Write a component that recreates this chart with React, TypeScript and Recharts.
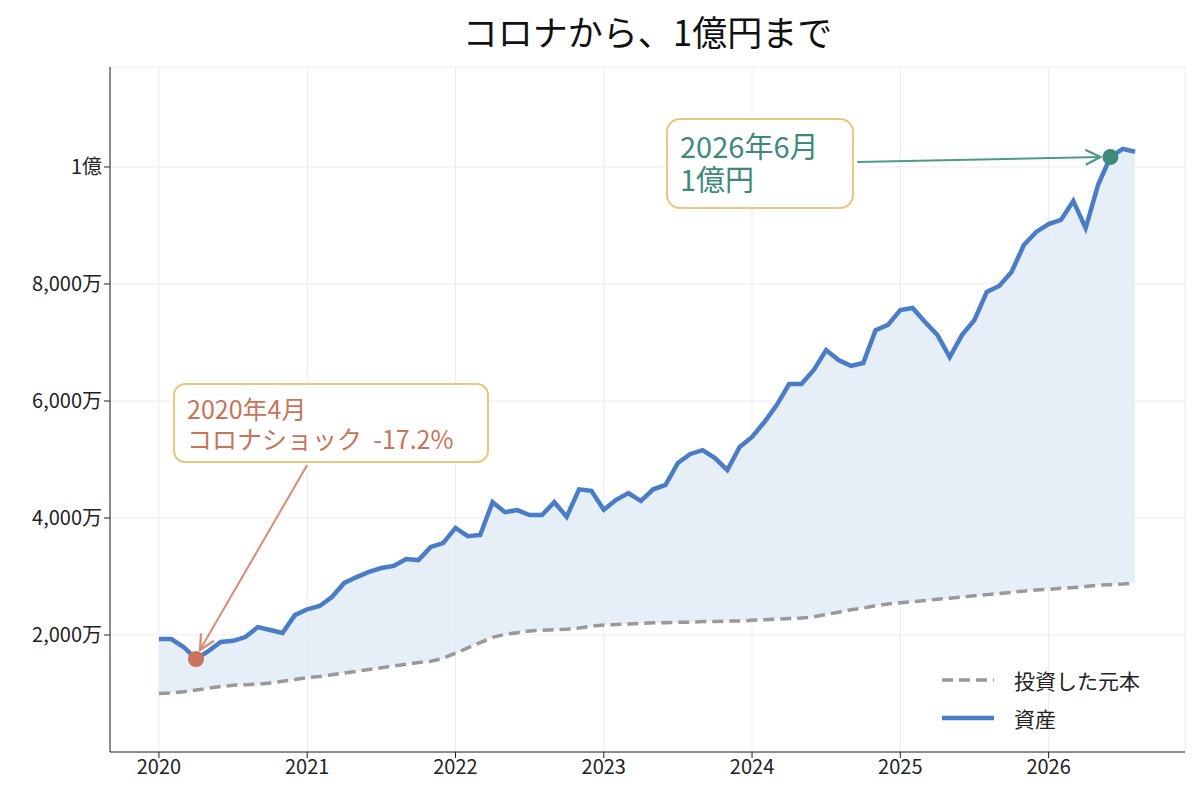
import { ComposedChart, Area, Line, XAxis, YAxis, CartesianGrid, ReferenceDot, ReferenceLine } from 'recharts';

const FONT = '"Noto Sans CJK JP", "Noto Sans", sans-serif';

const startYear = 2020;
const yearTicks = [2020, 2021, 2022, 2023, 2024, 2025, 2026];
const valueTicks = [2000, 4000, 6000, 8000, 10000];

// 資産 (万円), monthly from 2020-01
const assets = [
  1930, 1930, 1795, 1590, 1725, 1880, 1900, 1965, 2135, 2085, 2035, 2340,
  2440, 2495, 2650, 2890, 2990, 3080, 3145, 3180, 3300, 3280, 3505, 3570,
  3830, 3690, 3710, 4270, 4100, 4135, 4050, 4050, 4270, 4020, 4490, 4465,
  4140, 4310, 4425, 4290, 4490, 4565, 4940, 5095, 5160, 5025, 4820, 5215,
  5385, 5640, 5930, 6290, 6290, 6530, 6870, 6700, 6600, 6650, 7210, 7300,
  7555, 7590, 7350, 7130, 6750, 7130, 7385, 7865, 7965, 8205, 8665, 8890,
  9025, 9095, 9420, 8955, 9690, 10170, 10310, 10260,
];

// 投資した元本 (万円)
const principal = [
  1000, 1010, 1030, 1060, 1090, 1120, 1140, 1150, 1160, 1180, 1210, 1240,
  1270, 1290, 1320, 1350, 1380, 1410, 1440, 1470, 1500, 1530, 1550, 1600,
  1690, 1780, 1870, 1960, 2010, 2040, 2070, 2080, 2090, 2100, 2120, 2150,
  2170, 2180, 2190, 2200, 2210, 2210, 2220, 2220, 2230, 2230, 2240, 2240,
  2250, 2260, 2270, 2280, 2290, 2310, 2350, 2390, 2430, 2460, 2500, 2530,
  2550, 2570, 2590, 2610, 2630, 2650, 2670, 2690, 2710, 2730, 2750, 2770,
  2780, 2800, 2810, 2830, 2850, 2860, 2870, 2890,
];

const data = assets.map((v, i) => ({
  t: startYear + i / 12,
  asset: v,
  principal: principal[i],
  band: [principal[i], v],
}));

const fmtY = (v: number) => (v >= 10000 ? `${v / 10000}億` : `${v.toLocaleString('en-US')}万`);

export default function App() {
  return (
    <div style={{ position: 'absolute', left: 0, top: 0, width: 1200, height: 800, background: '#fff', fontFamily: FONT }}>
      <svg width={0} height={0} style={{ position: 'absolute' }}>
        <defs>
          <marker id="arRed" viewBox="0 0 12 12" refX="11" refY="6" markerWidth="9" markerHeight="9" orient="auto">
            <path d="M1,1 L11,6 L1,11" fill="none" stroke="#dc8a72" strokeWidth="1.5" />
          </marker>
          <marker id="arTeal" viewBox="0 0 12 12" refX="11" refY="6" markerWidth="9" markerHeight="9" orient="auto">
            <path d="M1,1 L11,6 L1,11" fill="none" stroke="#4a9c88" strokeWidth="1.5" />
          </marker>
        </defs>
      </svg>
      <div style={{ position: 'absolute', top: 5, left: 110, width: 1075, textAlign: 'center', fontSize: 35, color: '#111' }}>
        コロナから、1億円まで
      </div>
      <ComposedChart width={1200} height={800} data={data} margin={{ top: 67, right: 15, bottom: 0, left: 0 }}>
        <CartesianGrid stroke="#ececec" />
        <XAxis
          dataKey="t"
          type="number"
          domain={[2019.67, 2026.92]}
          ticks={yearTicks}
          height={48}
          tick={{ fill: '#222', fontSize: 20, fontFamily: FONT }}
          tickLine={{ stroke: '#222' }}
          axisLine={{ stroke: '#222' }}
          allowDataOverflow
        />
        <YAxis
          type="number"
          domain={[0, 11709]}
          ticks={valueTicks}
          width={110}
          tickFormatter={fmtY}
          tick={{ fill: '#222', fontSize: 20, fontFamily: FONT }}
          tickLine={{ stroke: '#222' }}
          axisLine={{ stroke: '#222' }}
          allowDataOverflow
        />
        <Area dataKey="band" stroke="none" fill="#dde8f6" fillOpacity={0.75} isAnimationActive={false} />
        <Line dataKey="principal" stroke="#999999" strokeWidth={3.5} strokeDasharray="11 6" dot={false} isAnimationActive={false} />
        <Line dataKey="asset" stroke="#4a7cc7" strokeWidth={4.5} dot={false} isAnimationActive={false} />
        <ReferenceLine
          segment={[{ x: 2021.0, y: 4906 }, { x: 2020.277, y: 1744 }]}
          stroke="#dc8a72"
          strokeWidth={2}
          markerEnd="url(#arRed)"
        />
        <ReferenceLine
          segment={[{ x: 2024.71, y: 10085 }, { x: 2026.35, y: 10170 }]}
          stroke="#4a9c88"
          strokeWidth={2}
          markerEnd="url(#arTeal)"
        />
        <ReferenceDot x={2020.25} y={1590} r={8} fill="#c8735a" stroke="none" />
        <ReferenceDot x={2026 + 5 / 12} y={10170} r={8} fill="#3d8a78" stroke="none" />
      </ComposedChart>
      <div style={{ position: 'absolute', left: 173, top: 383, width: 316, height: 80, border: '2px solid #e8c87a', borderRadius: 12, background: '#fff', color: '#c8735a', fontSize: 25, lineHeight: '30px', padding: '8px 12px', boxSizing: 'border-box' }}>
        2020年4月<br />コロナショック&nbsp;&nbsp;-17.2%
      </div>
      <div style={{ position: 'absolute', left: 666, top: 118, width: 188, height: 91, border: '2px solid #e8c87a', borderRadius: 14, background: '#fff', color: '#3d8a78', fontSize: 29, lineHeight: '33px', padding: '9px 12px', boxSizing: 'border-box' }}>
        2026年6月<br />1億円
      </div>
      <div style={{ position: 'absolute', left: 940, top: 661, fontSize: 21, color: '#222' }}>
        <div style={{ display: 'flex', alignItems: 'center', height: 38 }}>
          <svg width={56} height={10}><line x1={2} y1={5} x2={54} y2={5} stroke="#999" strokeWidth={3.5} strokeDasharray="11 6" /></svg>
          <span style={{ marginLeft: 18 }}>投資した元本</span>
        </div>
        <div style={{ display: 'flex', alignItems: 'center', height: 38 }}>
          <svg width={56} height={10}><line x1={2} y1={5} x2={54} y2={5} stroke="#4a7cc7" strokeWidth={4.5} /></svg>
          <span style={{ marginLeft: 18 }}>資産</span>
        </div>
      </div>
    </div>
  );
}
